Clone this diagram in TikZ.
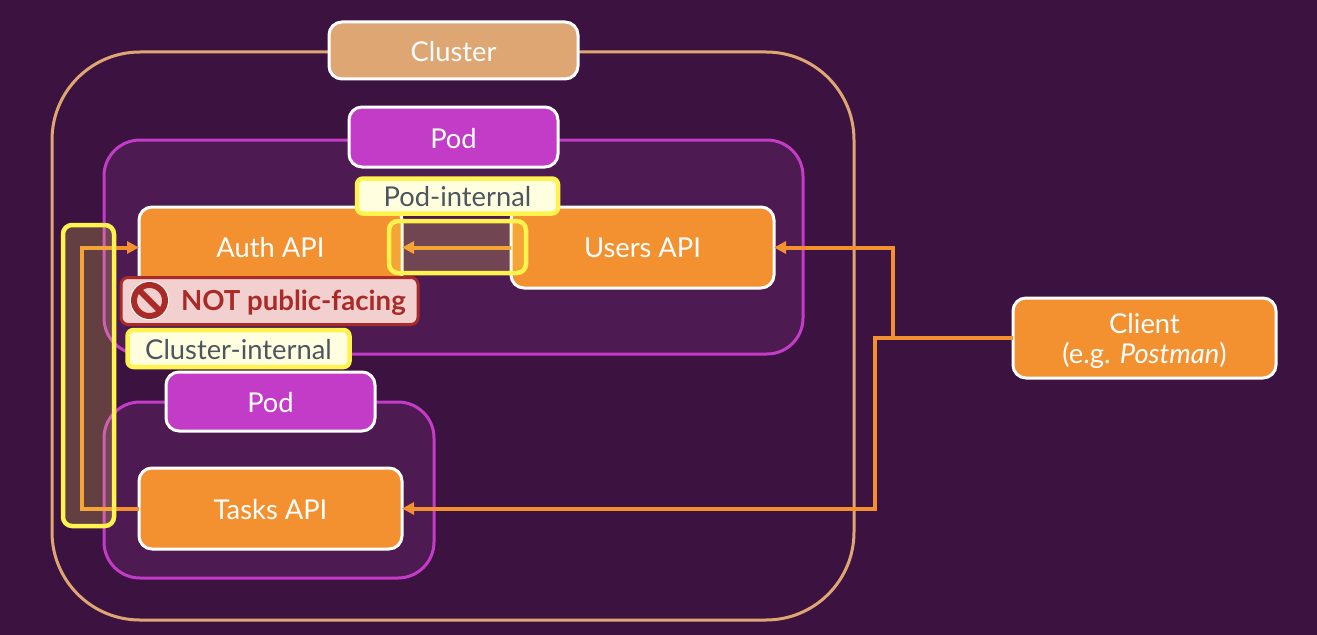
\documentclass[tikz,border=0pt]{standalone}
\usepackage{fontspec}
\setmainfont{Lato}
\usetikzlibrary{arrows.meta}
\definecolor{bgc}{HTML}{3C1340}
\definecolor{podfill}{HTML}{4E1A52}
\definecolor{podc}{HTML}{C33CC8}
\definecolor{tan}{HTML}{DDA673}
\definecolor{org}{HTML}{F39131}
\definecolor{yel}{HTML}{FFF34D}
\definecolor{pale}{HTML}{FFFFE0}
\definecolor{slatec}{HTML}{4C5560}
\definecolor{redc}{HTML}{A92B27}
\definecolor{pink}{HTML}{F2D0D0}
\def\px{0.75pt}
\tikzset{
  x=0.75pt,y=-0.75pt,
  base/.style={rectangle,inner sep=0pt,outer sep=0pt,align=center,font=\fontsize{20.5}{22.5}\selectfont,text=white},
  whitebox/.style={base,draw=white,line width=3*\px,rounded corners=13*\px},
  apibox/.style={whitebox,fill=org},
  podlabel/.style={whitebox,fill=podc},
  clusterlabel/.style={whitebox,fill=tan},
  podframe/.style={base,draw=podc,fill=podfill,line width=3*\px,rounded corners=36*\px},
  clusterframe/.style={base,draw=tan,line width=3*\px,rounded corners=88*\px},
  tagbox/.style={base,fill=pale,draw=yel,line width=4.5*\px,rounded corners=6*\px,text=slatec},
  zone/.style={base,fill=yel,fill opacity=0.2,draw=yel,draw opacity=1,line width=4.5*\px,rounded corners=9*\px},
  wire/.style={draw=org,line width=4*\px,line join=miter},
  wirearrow/.style={wire,-{Triangle[length=12*\px,width=12*\px]}},
}
\begin{document}
\begin{tikzpicture}
\useasboundingbox (0,0) rectangle (1317,635);
\fill[bgc] (0,0) rectangle (1317,635);
% frames
\node[clusterframe,minimum width=802*\px,minimum height=568*\px] (clusterf) at (453,336) {};
\node[podframe,minimum width=699*\px,minimum height=214*\px] (pod1f) at (453.5,247) {};
\node[podframe,minimum width=330*\px,minimum height=176*\px] (pod2f) at (269,490) {};
% labels
\node[clusterlabel,minimum width=249*\px,minimum height=57*\px] (clusterl) at (453.5,50.5) {};
\node[podlabel,minimum width=209*\px,minimum height=60*\px] (pod1l) at (453.5,137) {};
\node[podlabel,minimum width=209*\px,minimum height=59*\px] (pod2l) at (270.5,401.5) {};
\node[base] (clustert) at (453.5,52) {Cluster};
\node[base] (pod1t) at (453.5,139) {Pod};
\node[base] (pod2t) at (270.5,403) {Pod};
% services
\node[apibox,minimum width=263*\px,minimum height=81*\px] (auth) at (270.5,247.5) {};
\node[apibox,minimum width=263*\px,minimum height=81*\px] (users) at (642.5,247.5) {};
\node[apibox,minimum width=263*\px,minimum height=81*\px] (tasks) at (270.5,508.5) {};
\node[apibox,minimum width=263*\px,minimum height=80*\px] (client) at (1144.5,338) {};
\node[base] (autht) at (270.5,247.5) {Auth API};
\node[base] (userst) at (642.5,247.5) {Users API};
\node[base] (taskst) at (270.5,509.5) {Tasks API};
\node[base] (clientt) at (1144.5,340.5) {Client\\(e.g. \textit{Postman})};
% junctions
\coordinate (ja) at (82,508.5);
\coordinate (jb) at (82,247.5);
\coordinate (jc) at (893,338);
\coordinate (jd) at (893,247.5);
\coordinate (je) at (875,338);
\coordinate (jf) at (875,508.5);
% connectors
\draw[wirearrow] (tasks.west) -- (ja) -- (jb) -- (auth.west);
\draw[wirearrow] (users.west) -- (auth.east);
\draw[wirearrow] (client.west) -- (jc) -- (jd) -- (users.east);
\draw[wirearrow] (client.west) -- (je) -- (jf) -- (tasks.east);
% overlays
\node[zone,minimum width=51*\px,minimum height=301*\px] (zonel) at (88.5,375.5) {};
\node[zone,minimum width=137*\px,minimum height=52*\px] (zonem) at (457.5,247) {};
\node[tagbox,minimum width=201*\px,minimum height=35*\px] (podint) at (457.5,196) {};
\node[base,text=slatec] (podintt) at (457.5,197) {Pod-internal};
\node[base,fill=pink,draw=redc,line width=3*\px,rounded corners=7*\px,minimum width=297*\px,minimum height=47*\px] (notpub) at (269.5,301) {};
\node[base,anchor=west,text=redc,font=\fontsize{20.7}{22.5}\selectfont\bfseries] (nottxt) at (181,302.5) {NOT public-facing};
\node[circle,fill=white,minimum size=39*\px,inner sep=0pt,outer sep=0pt] (iconw) at (149.5,300.5) {};
\node[circle,fill=pink,draw=redc,line width=6*\px,minimum size=31*\px,inner sep=0pt,outer sep=0pt] (icon) at (149.5,300.5) {};
\draw[redc,line width=6*\px] (icon.north west) -- (icon.south east);
\node[tagbox,minimum width=222*\px,minimum height=37*\px] (clint) at (238.5,348.5) {};
\node[base,text=slatec] (clintt) at (238.5,349.5) {Cluster-internal};
\end{tikzpicture}
\end{document}
